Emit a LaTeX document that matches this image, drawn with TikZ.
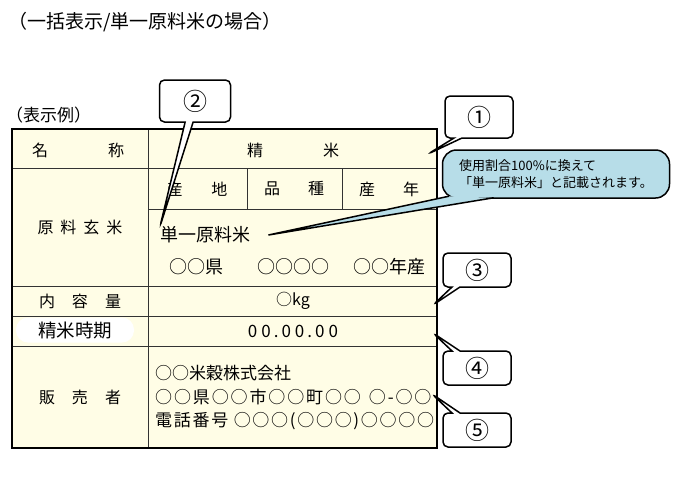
\documentclass[tikz,border=0pt]{standalone}
\usepackage{fontspec}
\setmainfont{Noto Sans CJK JP}
\usepackage{tikz}
\usetikzlibrary{shapes.callouts,positioning}
\definecolor{cream}{HTML}{FFFDE6}
\definecolor{aqua}{HTML}{B7DDE8}

\begin{document}
\begin{tikzpicture}[x=1pt,y=-1pt,
  tx/.style={inner sep=0pt,font=\fontsize{17}{22}\selectfont},
  hd/.style={inner sep=0pt,font=\fontsize{16}{20}\selectfont},
  cb/.style={rectangle callout,draw,line width=1.5pt,fill=white,rounded corners=5pt,callout pointer width=8pt,minimum width=68pt,minimum height=34pt,font=\fontsize{24}{24}\selectfont}]
  \useasboundingbox (0,0) rectangle (680,480);
  \node[tx,font=\fontsize{19}{22}\selectfont,anchor=west] (title) at (8,22) {（一括表示/単一原料米の場合）};
  \node[hd,font=\fontsize{17}{20}\selectfont,anchor=west] (sample) at (6,115) {（表示例）};

  \fill[cream] (12,129) rectangle (437,448);
  \draw[line width=0.8pt,black!80] (12,168) -- (437,168) (148,209) -- (437,209) (12,286) -- (437,286)
    (12,316) -- (437,316) (12,346) -- (437,346) (148,129) -- (148,448) (247,168) -- (247,209) (342,168) -- (342,209);
  \draw[line width=2pt] (12,129) rectangle (437,448);

  \node[hd] (name) at (78,150) {名\hspace{60pt}称};
  \node[hd] (rice) at (293,150) {精\hspace{60pt}米};
  \node[hd] (area) at (197,189) {産\hspace{29pt}地};
  \node[hd] (kind) at (294,189) {品\hspace{28pt}種};
  \node[hd] (year) at (389,189) {産\hspace{28pt}年};
  \node[hd] (raw) at (80,227) {原\hspace{7pt}料\hspace{7pt}玄\hspace{7pt}米};
  \node[tx,font=\fontsize{18}{22}\selectfont,anchor=west] (single) at (160,235) {単一原料米};
  \node[tx,font=\fontsize{18}{22}\selectfont] (pref) at (196,267) {○○県};
  \node[tx,font=\fontsize{18}{22}\selectfont] (brand) at (293,267) {○○○○};
  \node[tx,font=\fontsize{18}{22}\selectfont] (crop) at (389,267) {○○年産};
  \node[hd] (vol) at (80,301) {内\hspace{17pt}容\hspace{17pt}量};
  \node[hd] (kg) at (293,301) {○kg};
  \node[hd,font=\fontsize{18.5}{20}\selectfont,fill=white,rounded corners=12pt,minimum width=118pt,minimum height=25pt] (mill) at (75,330) {精米時期};
  \node[hd,font=\fontsize{17}{20}\selectfont] (date) at (293,331) {0\hspace{4pt}0\hspace{3pt}.\hspace{3pt}0\hspace{4pt}0\hspace{3pt}.\hspace{3pt}0\hspace{4pt}0};
  \node[hd] (seller) at (80,397) {販\hspace{17pt}売\hspace{17pt}者};
  \node[tx,anchor=west] (corp) at (155,373) {○○米穀株式会社};
  \node[tx,anchor=west] (addr) at (155,397) {\addfontfeature{LetterSpace=11}○○県○○市○○町○○\hspace{8pt}○-○○};
  \node[tx,anchor=west] (tel) at (155,421) {\addfontfeature{LetterSpace=10}電話番号 ○○○(○○○)○○○○};

  \coordinate (p1) at (428,154);
  \coordinate (p3) at (433,305);
  \coordinate (p4) at (433,333);
  \coordinate (p5) at (432,394);

  \node[cb,minimum height=42pt,callout absolute pointer={(p1)}] (c1) at (479,117) {①};
  \node[cb,minimum width=71pt,minimum height=42pt,callout absolute pointer={(single.north west)}] (c2) at (195,101) {②};
  \node[cb,callout absolute pointer={(p3)}] (c3) at (477,270) {③};
  \node[cb,callout absolute pointer={(p4)}] (c4) at (477,368) {④};
  \node[cb,callout absolute pointer={(p5)}] (c5) at (477,430) {⑤};

  \node[draw,line width=1.5pt,fill=aqua,rounded corners=14pt,minimum width=227pt,minimum height=48pt,align=left,
    font=\fontsize{13}{17}\selectfont] (note) at (556,174) {使用割合100\%に換えて\\「単一原料米」と記載されます。};
  \coordinate (na) at ([shift={(7pt,2.5pt)}]note.south west);
  \coordinate (nb) at ([shift={(52pt,1pt)}]note.south west);
  \fill[aqua] (na) -- ([xshift=18pt]single.east) -- (nb) -- cycle;
  \draw[line width=1.5pt] (na) -- ([xshift=18pt]single.east) -- (nb);
\end{tikzpicture}
\end{document}
